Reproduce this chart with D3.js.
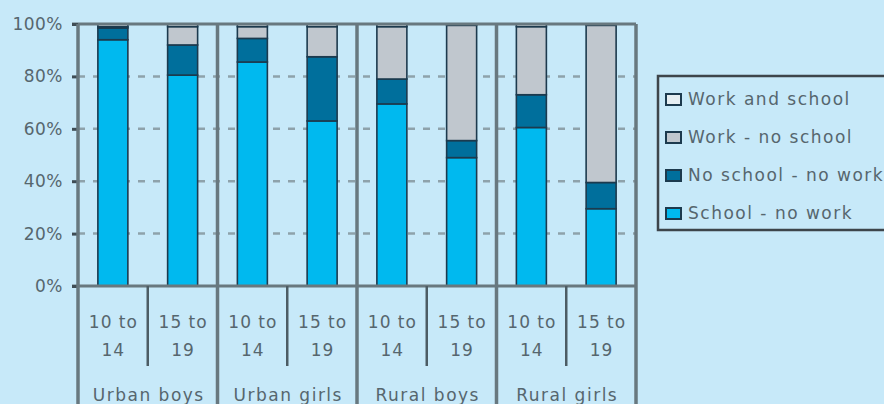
<!DOCTYPE html>
<html>
<head>
<meta charset="utf-8">
<script src="https://cdn.jsdelivr.net/npm/d3@7"></script>
<style>
  html, body { margin: 0; padding: 0; background: #c7e9f9; }
  svg { display: block; }
  text { font-family: "DejaVu Sans", sans-serif; fill: #56666e; }
</style>
</head>
<body>
<svg id="chart" width="884" height="404"></svg>
<script>
// Activity of adolescents by place, sex and age (percent of each group)
const groups = ["Urban boys", "Urban girls", "Rural boys", "Rural girls"];
const ageLines = [["10 to", "14"], ["15 to", "19"]];
const categories = ["UB10", "UB15", "UG10", "UG15", "RB10", "RB15", "RG10", "RG15"];

const schoolNoWork   = [94, 80.5, 85.5, 63, 69.5, 49, 60.5, 29.5];
const noSchoolNoWork = [4.5, 11.5, 9, 24.5, 9.5, 6.5, 12.5, 10];
const workNoSchool   = [0.5, 7, 4.5, 11.5, 20, 44, 26, 60];
const workAndSchool  = [1, 1, 1, 1, 1, 0.5, 1, 0.5];

const seriesNames = ["School - no work", "No school - no work", "Work - no school", "Work and school"];
const seriesValues = [schoolNoWork, noSchoolNoWork, workNoSchool, workAndSchool];
const yTicks = [0, 0.2, 0.4, 0.6, 0.8, 1];

const colors = ["#00b9ef", "#006f9c", "#c0c7ce", "#e6eef2"];
const edge = "#1c3a4e";
const axisGrey = "#68787f";

const svg = d3.select("#chart");
const plot = { left: 78, right: 636, top: 24, bottom: 286 };

const x = d3.scaleBand()
  .domain(categories)
  .range([plot.left, plot.right])
  .paddingInner(0.57)
  .paddingOuter(0.285);
const y = d3.scaleLinear().domain([0, 1]).range([plot.bottom, plot.top]);

// table rows for stacking
const rows = categories.map((c, i) => {
  const r = { key: c };
  seriesNames.forEach((s, j) => r[s] = seriesValues[j][i] / 100);
  return r;
});
const stacked = d3.stack().keys(seriesNames)(rows);

// dashed gridlines
svg.append("g")
  .selectAll("line")
  .data(yTicks.filter(t => t > 0 && t < 1))
  .join("line")
  .attr("x1", plot.left).attr("x2", plot.right)
  .attr("y1", d => y(d)).attr("y2", d => y(d))
  .attr("stroke", "#8ea2ab")
  .attr("stroke-width", 2.5)
  .attr("stroke-dasharray", "7 8");

// stacked bars
svg.append("g")
  .selectAll("g")
  .data(stacked)
  .join("g")
  .attr("fill", (d, i) => colors[i])
  .selectAll("rect")
  .data(d => d.map((v, i) => ({ v, key: categories[i] })))
  .join("rect")
  .attr("x", d => x(d.key))
  .attr("width", x.bandwidth())
  .attr("y", d => y(d.v[1]))
  .attr("height", d => y(d.v[0]) - y(d.v[1]))
  .attr("stroke", edge)
  .attr("stroke-width", 1.6);

// frame: top and bottom
const frame = svg.append("g").attr("stroke", axisGrey).attr("stroke-width", 3);
frame.append("line").attr("x1", plot.left - 6).attr("x2", plot.right)
  .attr("y1", plot.top).attr("y2", plot.top);
frame.append("line").attr("x1", plot.left - 6).attr("x2", plot.right)
  .attr("y1", plot.bottom).attr("y2", plot.bottom);

// left axis with percent labels
const yAxis = svg.append("g")
  .attr("transform", `translate(${plot.left},0)`)
  .call(d3.axisLeft(y).tickValues(yTicks).tickFormat(d3.format(".0%")).tickSize(6).tickPadding(9));
yAxis.select(".domain").remove();
yAxis.selectAll(".tick line").attr("stroke", "#3f4d55").attr("stroke-width", 3);
yAxis.selectAll(".tick text")
  .style("font-size", "17px")
  .style("letter-spacing", "0.5px")
  .attr("fill", "#56666e");

// category dividers below the axis (long ones at group edges)
const step = x.step();
const bounds = d3.range(categories.length + 1).map(i => plot.left + i * step);
svg.append("g")
  .selectAll("line")
  .data(bounds)
  .join("line")
  .attr("x1", d => d).attr("x2", d => d)
  .attr("y1", (d, i) => i % 2 === 0 ? plot.top : plot.bottom)
  .attr("y2", (d, i) => i % 2 === 0 ? 404 : 366)
  .attr("stroke", (d, i) => i % 2 === 0 ? axisGrey : "#4c5c64")
  .attr("stroke-width", (d, i) => i % 2 === 0 ? 3.5 : 2.5);

// age labels
const ageG = svg.append("g")
  .style("font-size", "17px")
  .style("letter-spacing", "1px")
  .attr("text-anchor", "middle");
categories.forEach((c, i) => {
  const cx = x(c) + x.bandwidth() / 2 + 0.5;
  ageLines[i % 2].forEach((t, k) => {
    ageG.append("text").attr("x", cx).attr("y", 328 + k * 28).text(t);
  });
});

// group labels
svg.append("g")
  .style("font-size", "17px")
  .style("letter-spacing", "1.5px")
  .attr("text-anchor", "middle")
  .selectAll("text")
  .data(groups)
  .join("text")
  .attr("x", (d, i) => plot.left + (i * 2 + 1) * step + 1)
  .attr("y", 401)
  .text(d => d);

// legend
const legend = svg.append("g").attr("transform", "translate(658,76)");
legend.append("rect")
  .attr("x", 0).attr("y", 0).attr("width", 240).attr("height", 154)
  .attr("fill", "none").attr("stroke", "#3d454b").attr("stroke-width", 2.5);
const legendOrder = [3, 2, 1, 0];
legendOrder.forEach((s, k) => {
  const row = legend.append("g").attr("transform", `translate(8,${23 + k * 38})`);
  row.append("rect")
    .attr("x", 0).attr("y", -5).attr("width", 15).attr("height", 11)
    .attr("fill", colors[s]).attr("stroke", edge).attr("stroke-width", 2);
  row.append("text")
    .attr("x", 22).attr("y", 6)
    .style("font-size", "17px")
    .style("letter-spacing", "1.5px")
    .text(seriesNames[s]);
});
</script>
</body>
</html>
